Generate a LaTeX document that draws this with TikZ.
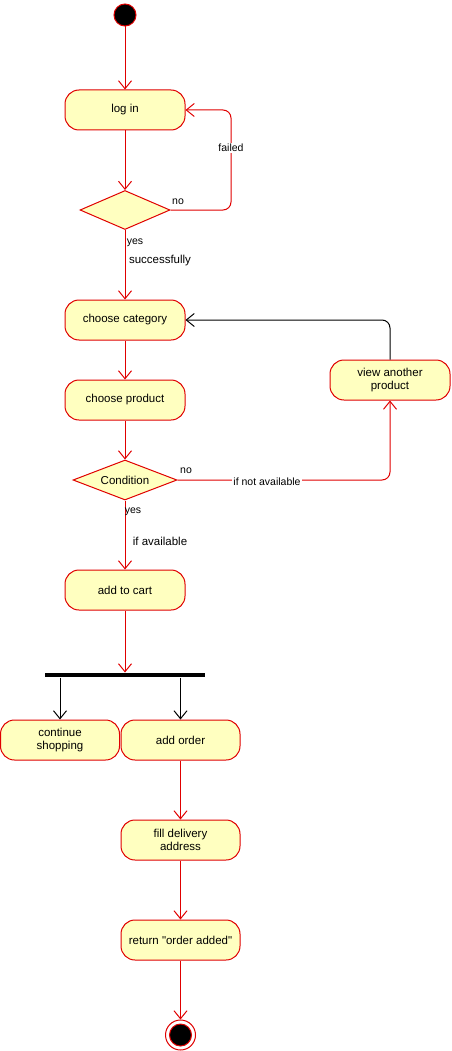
\documentclass[tikz,border=0pt]{standalone}
\usepackage{fontspec}
\setmainfont{Liberation Sans}
\usetikzlibrary{arrows.meta,shapes.geometric}
\definecolor{actfill}{HTML}{FFFFC0}
\definecolor{actline}{HTML}{E00000}
\tikzset{
  act/.style={draw=actline, fill=actfill, rounded corners=14pt, minimum width=120pt,
    minimum height=40pt, align=center, font=\fontsize{11.5}{13}\selectfont, inner sep=1pt},
  choice/.style={draw=actline, fill=actfill, diamond, aspect=2.3, inner sep=0pt,
    font=\fontsize{11.5}{13}\selectfont},
  flow/.style={draw=actline, -{Straight Barb[length=8pt,width=13pt]}},
  bflow/.style={draw=black, -{Straight Barb[length=8pt,width=13pt]}},
  lbl/.style={font=\fontsize{10.5}{12}\selectfont, inner sep=1pt}
}
\begin{document}
\begin{tikzpicture}[x=1pt,y=-1pt,line width=1pt]
      \useasboundingbox (0,0) rectangle (451,1051);
      \node (start) [circle, fill=black, draw=actline, minimum size=22pt, inner sep=0pt] at (125,15) {};
      \node (login) [act] at (125,110) {log in};
      \node (d1) [choice, minimum width=90pt, minimum height=39pt] at (125,210) {};
      \node (cat) [act] at (125,320) {choose category};
      \node (prod) [act] at (125,400) {choose product};
      \node (cond) [choice, minimum width=104pt, minimum height=40pt] at (125,480) {Condition};
      \node (other) [act] at (390,380) {view another\\product};
      \node (cart) [act] at (125,590) {add to cart};
      \node (fork) [fill=black, minimum width=160pt, minimum height=4pt, inner sep=0pt] at (125,675) {};
      \node (cont) [act, minimum width=119pt] at (60,740) {continue\\shopping};
      \node (order) [act, minimum width=119pt] at (180.5,740) {add order};
      \node (addr) [act, minimum width=119pt] at (180.5,840) {fill delivery\\address};
      \node (ret) [act, minimum width=119pt] at (180.5,940) {return \textquotedbl order added\textquotedbl};
      \node (end) [circle, draw=actline, fill=white, minimum size=30pt, inner sep=0pt] at (180.5,1035) {};
      \node (endin) [circle, fill=black, draw=actline, minimum size=22pt, inner sep=0pt] at (end) {};
      \begin{scope}[flow]
        \draw (start) to (login);
        \draw (login) to (d1);
        \draw[rounded corners=8pt] (d1.east) -- (231,210) -- (231,110) -- (login.east);
        \draw (d1) to (cat);
        \draw (cat) to (prod);
        \draw (prod) to (cond);
        \draw[rounded corners=8pt] (cond.east) -- (390,480) -- (other.south);
        \draw (cond) to (cart);
        \draw (cart) to (fork);
        \draw (order) to (addr);
        \draw (addr) to (ret);
        \draw (ret) to (end);
      \end{scope}
      \begin{scope}[bflow]
        \draw[rounded corners=8pt] (other.north) -- (390,320) -- (cat.east);
        \draw (fork.south -| cont.north) to (cont.north);
        \draw (fork.south -| order.north) to (order.north);
      \end{scope}
      \node (failed) [lbl, fill=white] at (231,148) {failed};
      \node (no1) [lbl] at (178,202) {no};
      \node (yes1) [lbl] at (135,243) {yes};
      \node (succ) [lbl, font=\fontsize{11.5}{13}\selectfont] at (160,261) {successfully};
      \node (no2) [lbl] at (186,471) {no};
      \node (navail) [lbl, fill=white] at (267,482) {if not available};
      \node (yes2) [lbl] at (133,512) {yes};
      \node (avail) [lbl, font=\fontsize{11.5}{13}\selectfont] at (160,541) {if available};
    \end{tikzpicture}
\end{document}
